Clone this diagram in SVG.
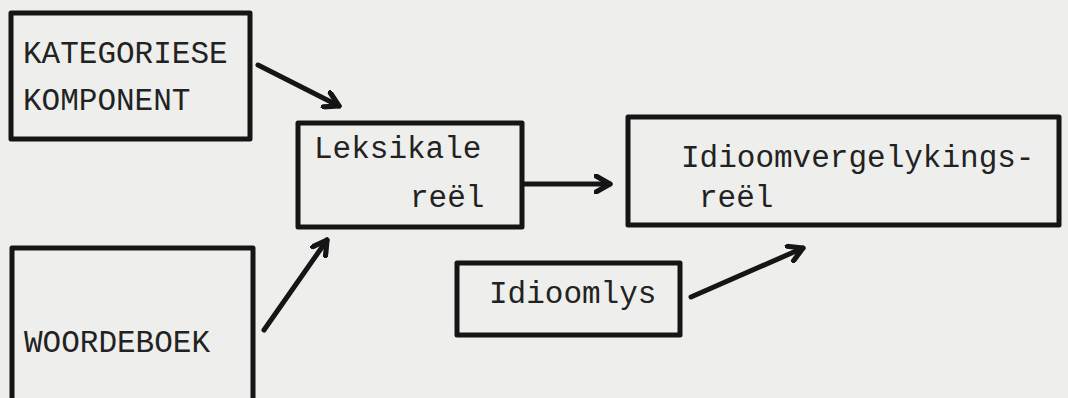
<svg xmlns="http://www.w3.org/2000/svg" width="1068" height="398" viewBox="0 0 1068 398">
  <style>
    .box { fill: none; stroke: #151515; stroke-width: 5; stroke-linejoin: round; }
    .lbl { font-family: "Liberation Mono", "Courier New", monospace; font-size: 31px; fill: #222222; }
    .edge { fill: none; stroke: #151515; stroke-width: 5; stroke-linecap: round; marker-end: url(#head); }
  </style>
  <defs>
    <!-- heavy open chevron used as arrowhead on every connector -->
    <marker id="head" viewBox="0 0 10 10" refX="8" refY="5" markerWidth="4" markerHeight="4" orient="auto" markerUnits="strokeWidth">
      <path d="M1,1 L8,5 L1,9" fill="none" stroke="#151515" stroke-width="2.6" stroke-linecap="round" stroke-linejoin="round"/>
    </marker>
  </defs>
  <rect width="1068" height="398" fill="#eeefec"/>

  <g id="kategoriese">
    <rect class="box" x="11" y="13" width="239" height="126"/>
    <text class="lbl" x="23" y="63">KATEGORIESE</text>
    <text class="lbl" x="23" y="110">KOMPONENT</text>
  </g>

  <g id="woordeboek">
    <rect class="box" x="12" y="248" width="241" height="160"/>
    <text class="lbl" x="24" y="352">WOORDEBOEK</text>
  </g>

  <g id="leksikale">
    <rect class="box" x="298" y="123" width="224" height="104"/>
    <text class="lbl" x="314" y="158">Leksikale</text>
    <text class="lbl" x="410" y="207">reël</text>
  </g>

  <g id="idioomvergelyking">
    <rect class="box" x="628" y="117" width="431" height="108"/>
    <text class="lbl" x="681" y="167">Idioomvergelykings-</text>
    <text class="lbl" x="699" y="207">reël</text>
  </g>

  <g id="idioomlys">
    <rect class="box" x="457" y="263" width="223" height="72"/>
    <text class="lbl" x="489" y="303">Idioomlys</text>
  </g>

  <g id="connectors">
    <path class="edge" d="M258,65 L339,106"/>
    <path class="edge" d="M264,330 L327,240"/>
    <path class="edge" d="M525,184 L610,184"/>
    <path class="edge" d="M691,297 L803,248"/>
  </g>
</svg>
